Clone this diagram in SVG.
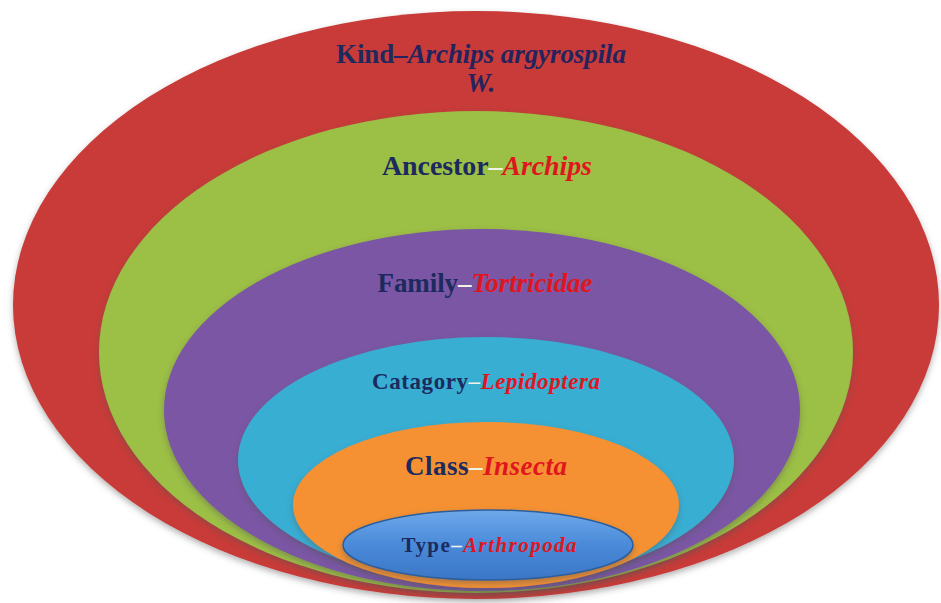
<svg xmlns="http://www.w3.org/2000/svg" width="941" height="603" viewBox="0 0 941 603">
<style>
.lbl{font-family:"Liberation Serif","Times New Roman",serif;font-weight:bold;text-anchor:middle;fill:#1C2A5E}
.it{font-style:italic;fill:#E0161E}
.itn{font-style:italic;fill:#25235E}
.dash{fill:#EEF3E6}
</style>
<defs>
<filter id="sh" x="-10%" y="-10%" width="120%" height="125%">
<feDropShadow dx="0" dy="3" stdDeviation="3" flood-color="#555" flood-opacity="0.45"/>
</filter>
<linearGradient id="gb" x1="0" y1="0" x2="0" y2="1">
<stop offset="0" stop-color="#6EA8EA"/>
<stop offset="0.5" stop-color="#4A8AD9"/>
<stop offset="1" stop-color="#3B76C6"/>
</linearGradient>
</defs>
<g id="kind">
<ellipse cx="476" cy="305" rx="463" ry="294" fill="#C83B37" filter="url(#sh)"/>
<text class="lbl" x="481" y="63" font-size="27" textLength="290" lengthAdjust="spacing">Kind<tspan class="itn">–Archips argyrospila</tspan></text>
<text class="lbl" x="481" y="92" font-size="27"><tspan class="itn">W.</tspan></text>
</g>
<g id="ancestor">
<ellipse cx="476" cy="352" rx="377" ry="241" fill="#9CBF45" filter="url(#sh)"/>
<text class="lbl" x="487" y="175" font-size="28" textLength="210" lengthAdjust="spacing">Ancestor<tspan class="dash">–</tspan><tspan class="it">Archips</tspan></text>
</g>
<g id="family">
<ellipse cx="482" cy="410" rx="318" ry="181" fill="#7A56A4" filter="url(#sh)"/>
<text class="lbl" x="485" y="292" font-size="27" textLength="215" lengthAdjust="spacing">Family<tspan class="dash">–</tspan><tspan class="it">Tortricidae</tspan></text>
</g>
<g id="category">
<ellipse cx="486" cy="460" rx="248" ry="123" fill="#37AED3" filter="url(#sh)"/>
<text class="lbl" x="486" y="389" font-size="23" textLength="228" lengthAdjust="spacing">Catagory<tspan class="dash">–</tspan><tspan class="it">Lepidoptera</tspan></text>
</g>
<g id="class">
<ellipse cx="486" cy="505" rx="193" ry="83" fill="#F59130" filter="url(#sh)"/>
<text class="lbl" x="486" y="475" font-size="27" textLength="162" lengthAdjust="spacing">Class<tspan class="dash">–</tspan><tspan class="it">Insecta</tspan></text>
</g>
<g id="type">
<ellipse cx="488" cy="545" rx="145" ry="35" fill="url(#gb)" stroke="#2C5E9E" stroke-width="1.5" filter="url(#sh)"/>
<text class="lbl" x="489" y="552" font-size="21" textLength="175" lengthAdjust="spacing">Type<tspan class="dash">–</tspan><tspan class="it">Arthropoda</tspan></text>
</g>
</svg>
